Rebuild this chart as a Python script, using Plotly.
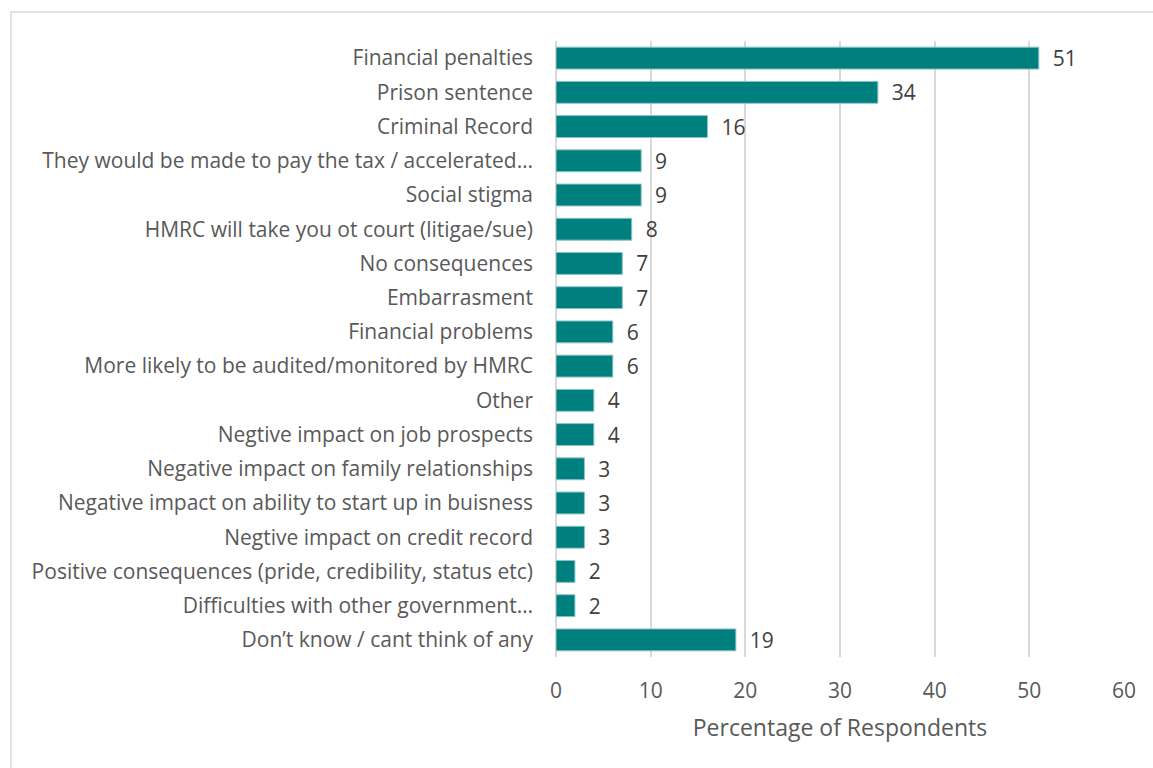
import plotly.graph_objects as go

categories = [
    "Financial penalties",
    "Prison sentence",
    "Criminal Record",
    "They would be made to pay the tax / accelerated…",
    "Social stigma",
    "HMRC will take you ot court (litigae/sue)",
    "No consequences",
    "Embarrasment",
    "Financial problems",
    "More likely to be audited/monitored by HMRC",
    "Other",
    "Negtive impact on job prospects",
    "Negative impact on family relationships",
    "Negative impact on ability to start up in buisness",
    "Negtive impact on credit record",
    "Positive consequences (pride, credibility, status etc)",
    "Difficulties with other government…",
    "Don’t know / cant think of any",
]
values = [51, 34, 16, 9, 9, 8, 7, 7, 6, 6, 4, 4, 3, 3, 3, 2, 2, 19]
x_ticks = [0, 10, 20, 30, 40, 50, 60]

W, H = 1153, 768
ML, MR, MT, MB = 556, 29, 41, 111
FONT = "Open Sans"
FS = 21

fig = go.Figure(
    go.Bar(
        x=values,
        y=categories,
        orientation="h",
        marker=dict(color="#007f7f", line=dict(color="#8cc4c4", width=1)),
        text=values,
        texttemplate="\u00a0\u00a0%{text}",
        textposition="outside",
        constraintext="none",
        cliponaxis=False,
        textfont=dict(family=FONT, size=FS, color="#404040"),
        width=0.64,
    )
)

pw = W - ML - MR
ph = H - MT - MB
# light frame around the whole chart
fig.add_shape(
    type="rect",
    xref="paper", yref="paper",
    x0=(11 - ML) / pw, x1=(W + 5 - ML) / pw,
    y0=-(H + 5 - MT - ph) / ph, y1=(ph + MT - 12) / ph,
    line=dict(color="#d9d9d9", width=1.5),
    fillcolor="rgba(0,0,0,0)",
    layer="below",
)

fig.update_layout(
    width=W, height=H,
    margin=dict(l=ML, r=MR, t=MT, b=MB),
    paper_bgcolor="white",
    plot_bgcolor="white",
    showlegend=False,
    font=dict(family=FONT, color="#595959"),
    xaxis=dict(
        range=[0, 60],
        tickvals=x_ticks,
        showgrid=True,
        gridcolor="#d9d9d9",
        gridwidth=1.5,
        zeroline=True,
        zerolinecolor="#d9d9d9",
        zerolinewidth=1.5,
        showline=False,
        tickfont=dict(family=FONT, size=FS, color="#595959"),
        ticklabelstandoff=19,
        title=dict(
            text="Percentage of Respondents",
            font=dict(family=FONT, size=23, color="#595959"),
            standoff=16,
        ),
    ),
    yaxis=dict(
        autorange="reversed",
        showgrid=False,
        showline=False,
        tickfont=dict(family=FONT, size=FS, color="#595959"),
        ticklabelstandoff=22,
    ),
)

fig.write_html("out.html")
